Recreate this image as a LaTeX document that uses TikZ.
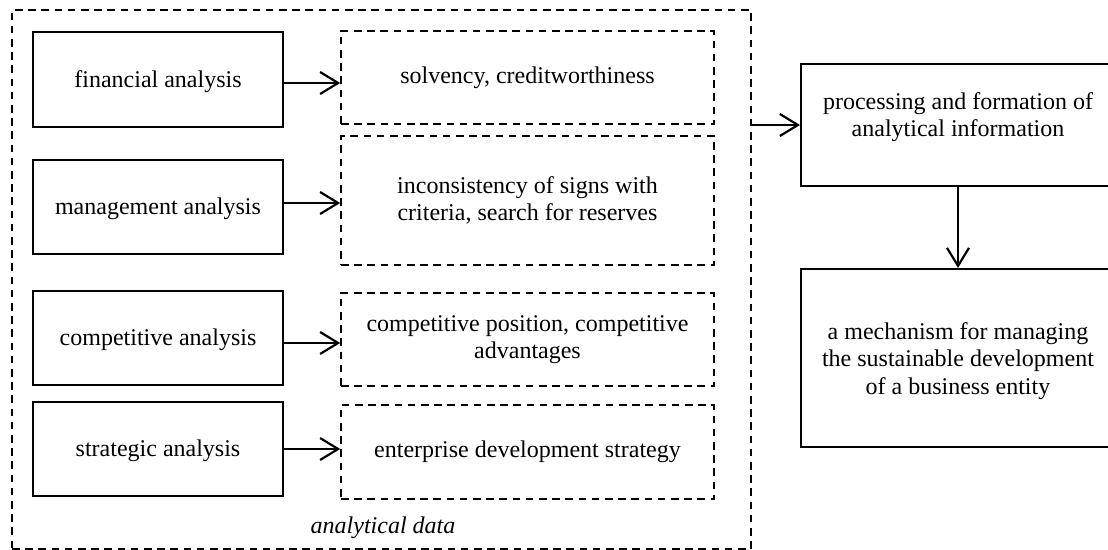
\documentclass[tikz,border=0pt]{standalone}
\usepackage{fontspec}
\setmainfont{Liberation Serif}
\usetikzlibrary{fit,arrows.meta}
\tikzset{
  box/.style={draw, line width=1pt, inner sep=0pt},
  dbox/.style={draw, line width=0.8pt, dash pattern=on 3.8pt off 2.8pt, inner sep=0pt},
  lbl/.style={inner sep=0pt, align=center, font=\fontsize{12}{13.8}\selectfont},
  arr/.style={line width=1pt, -{Straight Barb[length=9pt,width=11pt,line width=1.1pt]}}
}
\begin{document}
\begin{tikzpicture}[x=0.5pt,y=-0.5pt]
\useasboundingbox (0,0) rectangle (1108,550);
% outer dashed frame
\node[dbox, fit={(12,10) (751,549)}] (outer) {};
\node[lbl, anchor=base, font=\fontsize{12}{13.8}\selectfont\itshape] (adata) at (383,533) {analytical data};
% left boxes
\node[box, fit={(33,32) (283,127)}] (fin) {};
\node[lbl, yshift=-1pt] (fint) at (fin.center) {financial analysis};
\node[box, fit={(33,160) (283,254)}] (man) {};
\node[lbl, yshift=-1pt] (mant) at (man.center) {management analysis};
\node[box, fit={(33,291) (283,385)}] (comp) {};
\node[lbl, yshift=-1pt] (compt) at (comp.center) {competitive analysis};
\node[box, fit={(33,402) (283,496)}] (strat) {};
\node[lbl, yshift=-1pt] (stratt) at (strat.center) {strategic analysis};
% dashed result boxes
\node[dbox, fit={(341,31) (714,124)}] (solv) {};
\node[lbl] (solvt) at (solv.center) {solvency, creditworthiness};
\node[dbox, fit={(341,136) (714,265)}] (inc) {};
\node[lbl] (inct) at (inc.center) {inconsistency of signs with\\criteria, search for reserves};
\node[dbox, fit={(341,293) (714,386)}] (cpos) {};
\node[lbl] (cpost) at (cpos.center) {competitive position, competitive\\advantages};
\node[dbox, fit={(341,405) (714,499)}] (ent) {};
\node[lbl] (entt) at (ent.center) {enterprise development strategy};
% right boxes
\node[box, fit={(801,64) (1115,186)}] (proc) {};
\node[lbl] (proct) at (958,117) {processing and formation of\\analytical information};
\node[box, fit={(801,269) (1115,447)}] (mech) {};
\node[lbl] (mecht) at (958,361) {a mechanism for managing\\the sustainable development\\of a business entity};
% arrows
\draw[arr] (fin.east) ++(0,3.5) coordinate (fa) -- (solv.west |- fa);
\draw[arr] (man.east) ++(0,-4) coordinate (ma) -- (inc.west |- ma);
\draw[arr] (comp.east) ++(0,5) coordinate (ca) -- (cpos.west |- ca);
\draw[arr] (strat.east) -- (ent.west |- strat.east);
\draw[arr] (outer.east |- proc.west) -- (proc.west);
\draw[arr] (proc.south) -- (mech.north);
\end{tikzpicture}
\end{document}
